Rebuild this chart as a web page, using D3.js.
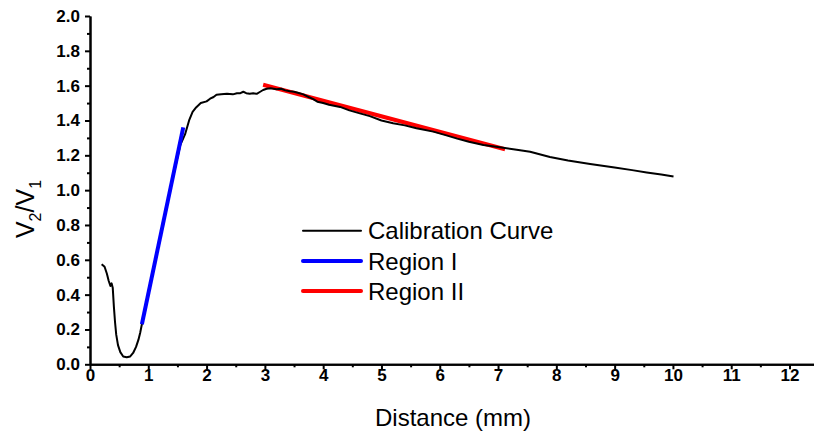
<!DOCTYPE html>
<html>
<head>
<meta charset="utf-8">
<script src="https://cdn.jsdelivr.net/npm/d3@7"></script>
<style>
  body { margin: 0; background: #fff; }
  svg { font-family: "Liberation Sans", Arial, sans-serif; }
  .tick text { font-weight: 700; font-size: 17px; font-family: "Liberation Sans", Arial, sans-serif; }
</style>
</head>
<body>
<script>
// calibration curve (distance in mm, V2/V1)
var calibX = [0.20, 0.25, 0.29, 0.32, 0.35, 0.37, 0.39, 0.41, 0.43, 0.45, 0.48, 0.52, 0.57, 0.63, 0.69, 0.74, 0.79, 0.83, 0.86, 0.89,
              1.00, 1.20, 1.40, 1.55, 1.63, 1.70, 1.76, 1.82, 1.90, 2.00, 2.06, 2.12, 2.17, 2.25, 2.35, 2.45, 2.52, 2.58, 2.63, 2.68,
              2.74, 2.80, 2.86, 2.92, 2.97, 3.03, 3.10, 3.20, 3.28, 3.35, 3.43, 3.50, 3.58, 3.66, 3.75, 3.83, 3.90, 4.00, 4.10, 4.29,
              4.45, 4.63, 4.80, 5.00, 5.20, 5.40, 5.60, 5.89, 6.10, 6.30, 6.50, 6.75, 7.00, 7.32, 7.55, 7.89, 8.20, 8.58, 9.00, 9.30,
              9.55, 9.80, 10.01]
var calibY = [0.575, 0.560, 0.520, 0.480, 0.450, 0.465, 0.440, 0.330, 0.240, 0.170, 0.110, 0.070, 0.045, 0.040, 0.045, 0.065, 0.100, 0.140, 0.180, 0.230,
              0.400, 0.720, 1.040, 1.260, 1.320, 1.400, 1.450, 1.475, 1.500, 1.510, 1.525, 1.535, 1.548, 1.550, 1.553, 1.550, 1.556, 1.557, 1.565, 1.557,
              1.553, 1.556, 1.553, 1.565, 1.575, 1.582, 1.585, 1.580, 1.582, 1.573, 1.568, 1.565, 1.558, 1.550, 1.535, 1.523, 1.508, 1.500, 1.490, 1.478,
              1.458, 1.441, 1.425, 1.400, 1.384, 1.372, 1.355, 1.336, 1.316, 1.296, 1.278, 1.259, 1.248, 1.232, 1.221, 1.190, 1.170, 1.150, 1.130, 1.115,
              1.102, 1.090, 1.078]
// linear fits
var region1X = [0.89, 1.60]
var region1Y = [0.23, 1.36]
var region2X = [2.97, 7.12]
var region2Y = [1.605, 1.235]

var xMajor = [0, 1, 2, 3, 4, 5, 6, 7, 8, 9, 10, 11, 12]
var xMinor = [0.5, 1.5, 2.5, 3.5, 4.5, 5.5, 6.5, 7.5, 8.5, 9.5, 10.5, 11.5]
var yMajor = [0, 0.2, 0.4, 0.6, 0.8, 1.0, 1.2, 1.4, 1.6, 1.8, 2.0]
var yMinor = [0.1, 0.3, 0.5, 0.7, 0.9, 1.1, 1.3, 1.5, 1.7, 1.9]

var legendNames = ["Calibration Curve", "Region I", "Region II"]
var legendColors = ["#000000", "#0000ff", "#ff0000"]

var width = 814
    height = 432

var svg = d3.select("body")
  .append("svg")
    .attr("width", width)
    .attr("height", height)

var x = d3.scaleLinear().domain([0, 12.42]).range([90, 814])
var y = d3.scaleLinear().domain([0, 2]).range([364.3, 16])

function zip(xs, ys) {
  return xs.map(function(d, i) { return [d, ys[i]] })
}

var line = d3.line()
  .x(function(d) { return x(d[0]) })
  .y(function(d) { return y(d[1]) })

// region II under the curve, region I over it (as in the picture)
svg.append("path")
  .datum(zip(region2X, region2Y))
  .attr("d", line)
  .attr("fill", "none")
  .attr("stroke", "#ff0000")
  .attr("stroke-width", 4)

svg.append("path")
  .datum(zip(calibX, calibY))
  .attr("d", line)
  .attr("fill", "none")
  .attr("stroke", "#000")
  .attr("stroke-width", 2)
  .attr("stroke-linejoin", "round")

svg.append("path")
  .datum(zip(region1X, region1Y))
  .attr("d", line)
  .attr("fill", "none")
  .attr("stroke", "#0000ff")
  .attr("stroke-width", 4)

// axes: major ticks with labels, minor ticks without
function styleAxis(g) {
  g.attr("font-family", null).attr("font-size", null)
  g.selectAll("path, line").attr("stroke", "#000").attr("stroke-width", 2)
  g.selectAll("text")
    .attr("fill", "#000")
    .attr("font-weight", "bold")
}

svg.append("g")
  .attr("transform", "translate(0," + y(0) + ")")
  .call(d3.axisBottom(x).tickValues(xMinor).tickSize(3).tickFormat("").tickSizeOuter(0))
  .call(styleAxis)

svg.append("g")
  .attr("transform", "translate(0," + y(0) + ")")
  .call(d3.axisBottom(x).tickValues(xMajor).tickSize(5).tickPadding(0).tickFormat(d3.format("d")).tickSizeOuter(0))
  .call(styleAxis)

svg.append("g")
  .attr("transform", "translate(" + x(0) + ",0)")
  .call(d3.axisLeft(y).tickValues(yMinor).tickSize(3).tickFormat("").tickSizeOuter(0))
  .call(styleAxis)

svg.append("g")
  .attr("transform", "translate(" + x(0) + ",0)")
  .call(d3.axisLeft(y).tickValues(yMajor).tickSize(5).tickPadding(5).tickFormat(d3.format(".1f")).tickSizeOuter(0))
  .call(styleAxis)

// axis titles
svg.append("text")
  .attr("x", 453)
  .attr("y", 426)
  .attr("text-anchor", "middle")
  .style("font-size", "24px")
  .text("Distance (mm)")

var yTitle = svg.append("text")
  .attr("transform", "translate(34,209) rotate(-90)")
  .attr("text-anchor", "middle")
  .style("font-size", "25px")
yTitle.append("tspan").text("V")
yTitle.append("tspan").attr("dy", 7).style("font-size", "16px").text("2")
yTitle.append("tspan").attr("dy", -7).text("/V")
yTitle.append("tspan").attr("dy", 7).style("font-size", "16px").text("1")

// legend
var legend = svg.selectAll(".legend")
  .data(legendNames)
  .enter()
  .append("g")
  .attr("class", "legend")
  .attr("transform", function(d, i) { return "translate(303," + [230.7, 261, 291][i] + ")" })

legend.append("line")
  .attr("x1", 0)
  .attr("x2", 58)
  .attr("stroke", function(d, i) { return legendColors[i] })
  .attr("stroke-width", function(d, i) { return i === 0 ? 2 : 4 })
  .attr("stroke-linecap", "round")

legend.append("text")
  .attr("x", 65)
  .attr("y", 8.5)
  .style("font-size", "24px")
  .text(function(d) { return d })
</script>
</body>
</html>
